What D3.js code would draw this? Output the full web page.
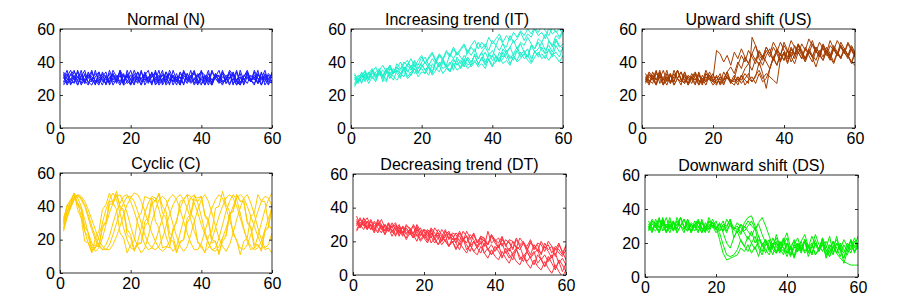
<!DOCTYPE html>
<html lang="en">
<head>
<meta charset="UTF-8">
<title>Control chart patterns</title>
<script src="https://d3js.org/d3.v7.min.js"></script>
<style>
  body { margin: 0; background: #fff; }
  svg { display: block; }
  .tick text, .ttl { font-family: "Liberation Sans", Arial, sans-serif; fill: #000; }
</style>
</head>
<body>
<svg id="chart" width="900" height="305"></svg>
<script>
// ticks shared by every panel
const xTicks = [0, 20, 40, 60];
const yTicks = [0, 20, 40, 60];

// Normal (N)
const normal = [
  [31,27,33,29,34,26,30,32,28,35,27,31,29,33,26,30,34,28,32,27,31,29,35,26,30,33,28,32,27,34,29,31,26,33,30,28,35,27,32,29,31,26,34,30,28,33,27,31,29,35,26,32,30,28,34,27,31,29,33,30],
  [28,33,26,31,29,35,27,32,30,26,34,28,31,27,33,29,26,32,30,35,28,31,26,34,29,27,33,30,28,32,26,35,29,31,27,33,28,30,26,34,32,29,27,31,35,28,30,26,33,29,31,27,34,28,32,30,26,33,29,31],
  [34,30,28,32,26,31,35,27,29,33,30,26,32,28,35,31,27,29,33,26,30,34,28,31,27,32,29,35,26,30,33,28,31,27,34,29,32,26,30,35,28,31,27,33,29,26,32,30,34,28,27,31,35,29,26,33,30,28,32,27],
  [26,29,32,35,28,30,27,33,31,29,26,34,30,28,32,27,35,31,29,26,33,28,30,32,35,27,31,26,29,34,30,28,33,26,32,29,31,35,27,30,26,33,29,32,28,34,31,27,30,26,35,29,32,28,31,27,33,30,26,34],
  [30,35,27,28,31,33,29,26,34,28,32,30,27,35,29,31,33,26,28,32,30,27,34,29,31,26,35,28,33,30,27,32,29,26,34,31,28,30,33,27,29,35,26,31,32,28,30,34,27,29,33,26,31,28,35,30,29,32,27,28],
  [33,26,30,27,35,29,32,28,26,31,34,29,27,30,33,28,32,26,35,29,27,31,30,33,28,34,26,29,32,27,35,30,28,31,26,33,29,34,27,31,30,28,26,32,29,35,27,30,33,28,26,31,34,29,27,32,30,35,28,29],
  [27,31,35,30,26,32,28,34,29,27,30,33,26,31,28,29,35,27,32,30,26,34,29,28,31,33,27,30,35,26,29,32,28,34,30,27,31,33,29,26,32,28,35,30,27,31,29,33,26,34,28,30,27,32,29,35,26,31,30,33],
  [32,28,29,34,31,27,33,30,35,27,29,31,34,26,30,32,28,33,27,29,35,30,26,32,28,31,34,27,30,29,33,26,31,28,35,30,27,29,32,34,26,30,28,33,31,27,29,35,32,26,30,28,33,29,31,27,34,26,30,32]
];

// Increasing trend (IT)
const incTrend = [
  [29,32,27,33,31,35,30,34,32,29,36,33,35,31,37,34,38,33,36,39,35,38,34,40,37,41,36,39,42,38,41,37,43,40,44,39,42,46,41,44,40,46,43,47,42,45,49,44,47,43,50,46,48,52,47,50,46,53,49,51],
  [31,28,34,30,33,36,32,35,38,34,37,33,39,36,40,38,42,37,41,44,39,43,46,41,45,42,47,44,49,45,48,51,46,50,53,48,52,49,55,51,54,57,52,56,53,58,55,59,56,60,57,61,58,62,59,56,61,58,60,57],
  [26,30,28,32,27,31,29,33,30,28,34,31,29,33,35,30,32,36,31,34,33,37,32,35,38,33,36,34,39,35,37,40,36,38,41,37,39,36,42,38,40,43,39,41,38,44,40,42,45,41,39,43,46,42,44,41,45,43,40,44],
  [33,29,31,35,30,34,37,32,35,33,38,34,36,40,35,39,37,41,36,40,43,38,42,39,44,41,38,45,42,46,43,40,47,44,48,42,46,49,45,43,50,47,51,46,49,53,48,52,50,55,51,48,54,52,57,53,50,56,54,58],
  [27,31,33,29,34,31,28,35,32,36,30,34,37,33,31,38,35,39,34,37,40,36,33,41,38,42,37,40,35,43,39,44,41,38,45,42,46,40,44,47,43,41,48,45,49,44,47,51,46,43,50,48,52,47,45,53,49,54,50,48],
  [30,27,32,34,29,33,31,35,28,34,32,36,33,30,37,35,32,38,34,36,33,39,37,35,40,36,38,34,41,39,37,42,38,40,44,39,42,38,45,41,43,40,46,42,44,41,47,43,45,48,42,46,44,49,45,47,43,50,46,48],
  [25,29,32,28,33,30,34,36,31,35,38,33,37,35,39,41,36,40,38,43,39,42,45,40,44,41,46,43,48,44,47,50,45,49,46,52,48,51,47,53,50,55,51,49,56,52,54,58,53,57,55,60,56,58,54,61,57,59,55,60],
  [32,28,30,33,29,35,31,34,30,36,32,29,35,33,37,31,34,36,33,38,35,32,39,36,34,40,37,35,38,41,36,39,42,37,40,38,43,39,41,37,44,40,42,45,39,43,41,46,42,44,40,47,43,45,42,48,44,46,43,49]
];

// Upward shift (US)
const upShift = [
  [31,27,34,29,32,26,30,33,28,35,29,31,27,33,30,26,32,28,34,30,47,45,40,44,38,46,42,48,43,39,45,50,44,41,47,43,49,45,40,46,42,48,44,51,46,42,47,43,49,45,41,47,44,50,46,42,48,44,39,45],
  [28,33,30,26,34,29,31,27,35,30,28,32,26,31,34,29,27,33,30,28,32,26,29,31,27,30,38,44,40,47,43,39,46,42,49,45,41,48,44,52,47,43,50,46,42,49,45,51,47,43,50,46,53,48,44,50,46,52,48,44],
  [30,26,32,29,35,27,31,28,33,30,26,34,29,31,27,32,28,35,30,26,29,33,27,31,28,30,26,32,29,27,55,50,42,38,44,48,41,46,52,47,43,49,45,51,47,42,48,53,46,44,50,47,43,49,45,52,48,44,50,46],
  [27,31,29,34,30,26,33,28,31,35,29,27,32,30,26,34,28,31,29,33,27,30,26,32,29,28,31,27,30,33,28,31,40,33,24,36,42,38,45,41,47,43,39,46,42,48,44,40,47,43,49,45,41,48,44,50,46,42,48,44],
  [33,28,30,26,32,29,35,27,31,30,28,34,26,31,29,33,27,30,32,28,26,31,29,34,27,30,28,32,26,29,31,27,33,28,30,36,43,38,45,41,47,40,44,50,46,42,48,44,41,47,43,49,45,40,46,43,48,44,40,46],
  [29,34,31,27,33,30,26,32,28,35,30,27,31,29,33,26,30,28,32,29,27,31,30,34,28,26,31,29,33,30,28,32,35,30,33,31,29,27,42,46,40,48,44,50,45,41,47,43,49,45,51,46,42,48,44,50,46,43,49,45],
  [31,29,27,33,30,35,28,32,26,30,34,29,27,31,33,28,30,26,32,29,31,27,34,30,28,32,29,31,36,39,35,42,38,44,40,36,43,47,41,45,39,46,42,48,44,40,46,43,37,44,41,47,43,39,45,42,48,44,40,38],
  [28,32,30,35,27,31,29,33,26,30,34,28,31,27,32,29,26,33,30,28,31,27,29,34,37,33,40,36,43,39,45,41,47,43,49,45,52,48,44,50,46,53,49,45,51,47,54,50,46,52,48,44,50,47,53,49,45,51,47,43]
];

// Cyclic (C)
const cyclic = [
  [26,37,40,46,42,39,28,24,15,17,16,27,30,41,42,47,40,38,26,23,14,17,18,28,31,42,43,48,40,37,24,22,13,18,20,30,34,44,43,46,35,32,20,19,12,19,22,35,37,47,43,43,31,28,17,17,14,26,28,41],
  [30,41,43,48,38,33,19,18,12,21,25,38,41,48,42,38,24,21,12,17,19,33,36,46,45,44,31,27,15,16,15,27,30,43,44,47,36,32,18,17,12,22,25,39,40,49,41,37,23,20,11,19,21,34,36,47,43,43,29,26],
  [27,34,40,44,46,45,41,35,28,22,17,14,14,17,23,30,37,42,46,46,43,37,30,23,18,15,14,16,21,28,35,41,45,47,44,39,32,25,19,15,13,15,20,27,34,40,45,47,45,40,33,26,20,16,14,15,19,26,33,39],
  [31,40,41,48,41,38,25,22,13,16,16,28,31,43,43,49,39,37,23,21,13,18,18,31,33,45,43,47,36,33,20,19,12,19,20,33,35,46,45,46,34,31,18,19,11,21,23,36,37,47,43,43,30,27,15,17,13,25,27,40],
  [25,33,39,44,47,44,40,33,26,20,16,14,17,22,30,37,42,46,47,43,37,30,23,17,14,15,19,26,33,40,45,47,44,38,31,24,18,14,14,18,25,32,39,44,47,45,39,32,25,19,15,14,17,23,30,37,43,46,45,40],
  [33,40,44,47,42,34,25,18,13,15,22,30,38,44,48,44,36,27,20,15,14,19,27,36,42,46,45,38,30,22,16,13,16,24,32,40,45,47,42,34,25,18,14,15,21,29,37,43,47,44,36,27,19,14,15,22,30,38,44,48],
  [29,36,41,45,47,46,43,38,32,26,20,16,14,14,17,22,28,35,41,45,48,47,43,37,30,24,19,15,13,15,19,25,32,39,44,47,46,42,36,29,23,18,14,13,16,21,27,34,40,45,47,45,40,34,28,22,17,14,15,12],
  [32,37,43,48,45,40,32,24,18,13,15,21,29,36,42,46,47,42,36,28,21,16,12,15,22,31,38,44,46,44,37,29,22,16,13,16,23,31,38,44,47,43,36,28,21,16,13,17,24,32,39,45,47,42,35,27,20,15,17,24]
];

// Decreasing trend (DT)
const decTrend = [
  [32,28,31,34,29,27,33,30,26,31,28,30,25,29,27,24,30,26,28,23,27,25,22,27,24,20,25,23,21,26,22,19,24,21,17,22,20,18,23,19,16,21,18,14,20,17,15,19,16,12,18,15,13,17,14,10,16,13,11,15],
  [30,34,29,32,27,31,28,25,30,26,29,24,27,23,28,25,22,26,21,24,20,23,19,22,18,21,17,20,15,19,16,13,18,14,12,17,13,10,15,11,9,14,10,7,12,8,6,11,7,4,9,5,3,8,4,1,6,2,-1,3],
  [27,31,33,28,30,26,32,29,27,31,25,29,28,24,30,27,25,29,23,27,26,22,28,25,23,27,21,25,24,20,26,23,21,25,19,23,22,18,24,21,19,23,17,21,20,16,22,19,17,21,15,19,18,14,20,17,15,19,13,17],
  [35,30,32,28,33,29,31,27,30,26,29,31,25,28,24,27,29,23,26,22,25,27,21,24,20,23,25,19,22,18,21,23,17,20,16,19,21,15,18,14,17,19,13,16,12,15,17,11,14,10,13,15,9,12,8,11,13,7,10,6],
  [29,33,30,27,32,28,26,30,24,28,27,23,29,25,22,27,24,20,26,22,19,25,21,18,23,20,17,22,19,15,21,18,14,20,16,13,19,15,12,17,14,10,16,12,9,15,11,8,14,10,6,12,9,5,11,7,3,9,6,2],
  [31,28,34,30,27,32,29,33,28,26,31,27,30,25,29,28,24,30,26,27,23,28,25,22,27,24,26,21,25,23,20,26,22,24,19,23,21,18,24,20,22,17,21,19,16,22,18,20,15,19,17,14,20,16,18,13,17,15,12,18],
  [26,30,27,32,29,25,31,28,24,30,26,28,23,29,25,27,22,28,24,26,21,27,23,25,20,26,22,24,19,25,21,23,18,24,20,22,17,26,19,21,16,22,18,20,15,21,17,19,14,20,16,18,12,19,15,17,11,18,14,9],
  [33,29,31,27,30,28,25,29,26,28,23,27,24,26,21,25,22,24,20,23,26,19,22,18,21,24,17,20,16,19,22,15,18,14,17,20,13,16,12,15,18,11,14,10,13,16,9,12,8,11,14,7,10,5,9,12,4,8,2,7]
];

// Downward shift (DS)
const downShift = [
  [31,27,34,29,32,26,30,33,28,35,29,31,27,33,30,26,32,28,34,30,22,14,10,11,12,13,17,15,19,14,18,12,20,16,13,19,15,21,17,14,18,12,20,16,22,15,19,13,17,21,16,12,18,14,20,16,13,19,15,17],
  [28,33,30,26,34,29,31,27,35,30,28,32,26,31,34,29,27,33,30,28,32,26,20,17,23,28,25,30,27,24,29,19,15,21,18,13,20,16,22,14,18,11,17,21,15,19,13,20,16,23,18,14,21,17,12,19,15,22,17,20],
  [30,26,32,29,35,27,31,28,33,30,26,34,29,31,27,32,28,35,30,26,29,33,27,31,28,30,26,32,35,36,30,24,19,22,16,20,14,18,23,17,12,19,15,21,25,18,14,20,16,22,13,19,17,24,15,11,18,21,14,19],
  [27,31,29,34,30,26,33,28,31,35,29,27,32,30,26,34,28,31,29,33,27,30,26,32,29,28,31,27,30,33,28,31,25,20,16,23,18,14,21,26,17,12,19,15,22,18,13,20,16,23,11,17,21,14,19,8,15,22,18,24],
  [33,28,30,26,32,29,35,27,31,30,28,34,26,31,29,33,27,30,32,28,26,19,13,12,13,16,22,18,15,20,24,17,13,19,22,16,14,20,17,12,18,21,15,19,14,17,20,13,16,19,12,15,18,14,11,9,8,7,7,7],
  [29,34,31,27,33,30,26,32,28,35,30,27,31,29,33,26,30,28,32,29,27,31,30,34,28,26,31,29,33,30,28,32,35,30,24,18,21,15,19,23,13,17,20,16,22,14,18,25,19,15,21,17,13,20,16,22,18,14,21,17],
  [31,29,27,33,30,35,28,32,26,30,34,29,27,31,33,28,30,26,32,29,31,27,34,30,28,32,29,26,22,27,20,24,18,22,15,19,23,17,13,20,16,22,18,14,21,17,24,19,15,20,16,12,18,22,17,14,20,16,23,18],
  [28,32,30,35,27,31,29,33,26,30,34,28,31,27,32,29,26,33,30,28,31,27,29,34,23,27,21,18,24,20,16,22,19,14,21,17,25,18,15,20,13,19,23,16,21,12,18,22,15,19,17,24,14,20,16,11,18,21,15,20]
];

const panels = [
  { title: "Normal (N)",            series: normal,    color: "#1a1aff", x: 60,  y: 29,  w: 212, h: 99 },
  { title: "Increasing trend (IT)", series: incTrend,  color: "#1cefcb", x: 351, y: 29,  w: 212, h: 99 },
  { title: "Upward shift (US)",     series: upShift,   color: "#a33c00", x: 642, y: 29,  w: 213, h: 99 },
  { title: "Cyclic (C)",            series: cyclic,    color: "#ffcc00", x: 60,  y: 173, w: 212, h: 100 },
  { title: "Decreasing trend (DT)", series: decTrend,  color: "#ff3340", x: 353, y: 174, w: 213, h: 101 },
  { title: "Downward shift (DS)",   series: downShift, color: "#00ee00", x: 645, y: 175, w: 213, h: 102 }
];

const svg = d3.select("#chart");
const fontPx = "16px";

panels.forEach((p, i) => {
  const g = svg.append("g").attr("transform", `translate(${p.x},${p.y})`);
  const x = d3.scaleLinear().domain([0, 60]).range([0, p.w]);
  const y = d3.scaleLinear().domain([0, 60]).range([p.h, 0]);

  g.append("clipPath").attr("id", "clip" + i)
    .append("rect").attr("width", p.w).attr("height", p.h);

  const line = d3.line()
    .x((d, k) => x(k + 1))
    .y(d => y(d));

  g.append("g").attr("clip-path", `url(#clip${i})`)
    .selectAll("path")
    .data(p.series)
    .join("path")
    .attr("d", line)
    .attr("fill", "none")
    .attr("stroke", p.color)
    .attr("stroke-width", 1);

  // axes, MATLAB style: ticks inward, mirrored on top/right
  const fmt = d3.format("d");
  g.append("g").attr("transform", `translate(0,${p.h})`)
    .call(d3.axisBottom(x).tickValues(xTicks).tickFormat(fmt).tickSizeInner(-3).tickSizeOuter(0).tickPadding(5));
  g.append("g")
    .call(d3.axisLeft(y).tickValues(yTicks).tickFormat(fmt).tickSizeInner(-3).tickSizeOuter(0).tickPadding(5));
  g.append("g").call(d3.axisTop(x).tickValues(xTicks).tickFormat("").tickSizeInner(-3).tickSizeOuter(0));
  g.append("g").attr("transform", `translate(${p.w},0)`)
    .call(d3.axisRight(y).tickValues(yTicks).tickFormat("").tickSizeInner(-3).tickSizeOuter(0));
  g.selectAll(".domain").remove();
  g.selectAll(".tick line").attr("stroke", "#000").attr("stroke-width", 0.8);
  g.selectAll(".tick text").style("font-size", fontPx);

  g.append("rect")
    .attr("width", p.w).attr("height", p.h)
    .attr("fill", "none").attr("stroke", "#000").attr("stroke-width", 0.8);

  g.append("text").attr("class", "ttl")
    .attr("x", p.w / 2).attr("y", -4)
    .attr("text-anchor", "middle")
    .style("font-size", fontPx)
    .text(p.title);
});
</script>
</body>
</html>
